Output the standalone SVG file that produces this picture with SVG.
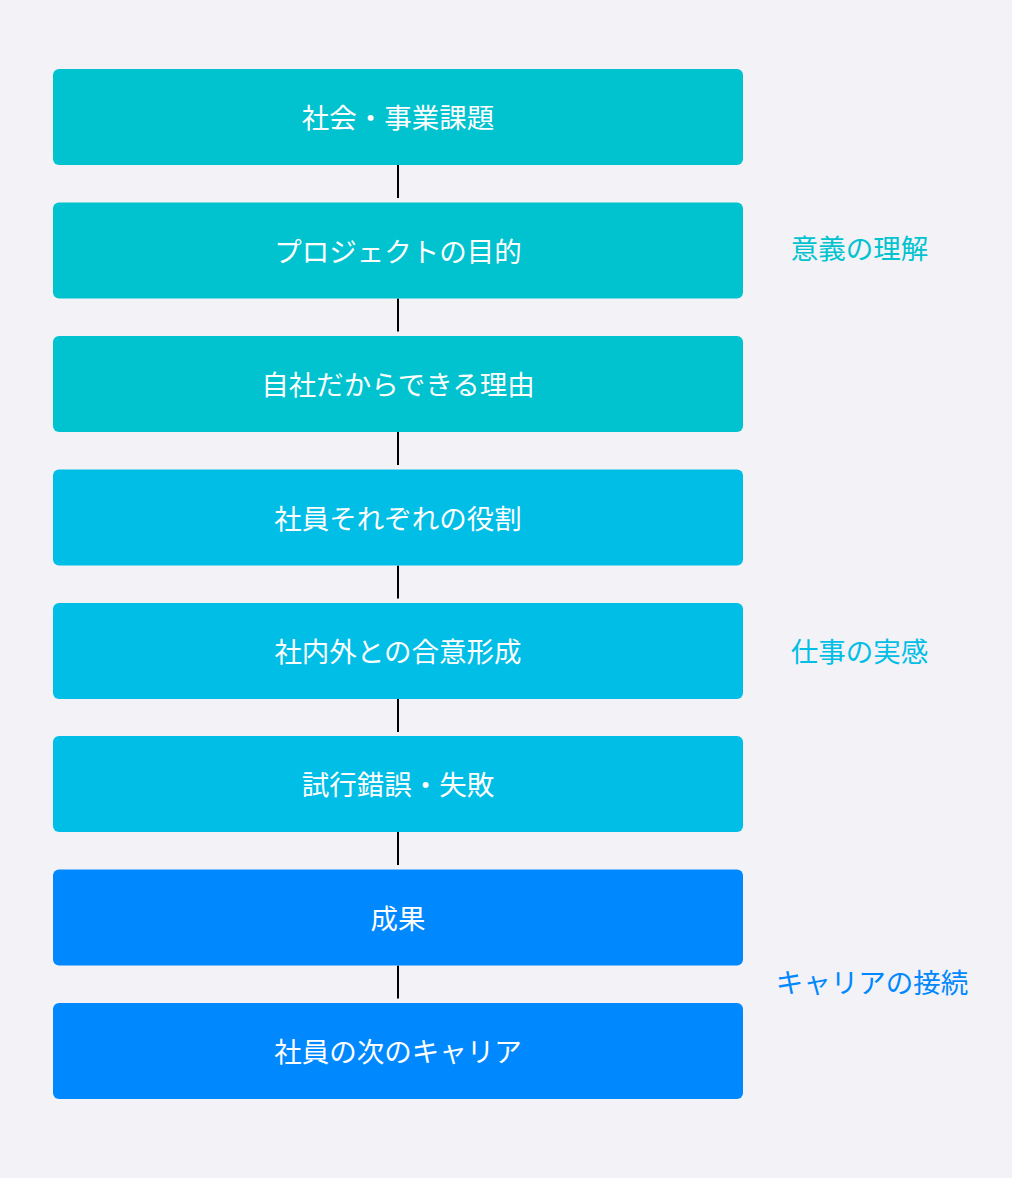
<svg xmlns="http://www.w3.org/2000/svg" width="1012" height="1178" viewBox="0 0 1012 1178">
<style>
.box{stroke:none}
.g1{fill:#00C3CF}
.g2{fill:#00BEE5}
.g3{fill:#0088FF}
.t{font-family:"Noto Sans CJK JP","Noto Sans",sans-serif;font-size:27.5px;fill:#FFFFFF;text-anchor:middle;dominant-baseline:central}
.side{font-family:"Noto Sans CJK JP","Noto Sans",sans-serif;font-size:27.5px;text-anchor:middle;dominant-baseline:central}
.c{stroke:#000000;stroke-width:2;fill:none}
</style>
<rect x="0" y="0" width="1012" height="1178" fill="#F2F2F7"/>
<g id="connectors">
<line class="c" x1="398" y1="165" x2="398" y2="198"/>
<line class="c" x1="398" y1="298.5" x2="398" y2="331.5"/>
<line class="c" x1="398" y1="432" x2="398" y2="465"/>
<line class="c" x1="398" y1="565.5" x2="398" y2="598.5"/>
<line class="c" x1="398" y1="699" x2="398" y2="732"/>
<line class="c" x1="398" y1="832" x2="398" y2="865"/>
<line class="c" x1="398" y1="965.5" x2="398" y2="998.5"/>
</g>
<g id="n1"><rect class="box g1" x="53" y="69" width="690" height="96" rx="6"/><text class="t" x="398" y="116">社会・事業課題</text></g>
<g id="n2"><rect class="box g1" x="53" y="202.5" width="690" height="96" rx="6"/><text class="t" x="398" y="249.5">プロジェクトの目的</text></g>
<g id="n3"><rect class="box g1" x="53" y="336" width="690" height="96" rx="6"/><text class="t" x="398" y="383">自社だからできる理由</text></g>
<g id="n4"><rect class="box g2" x="53" y="469.5" width="690" height="96" rx="6"/><text class="t" x="398" y="516.5">社員それぞれの役割</text></g>
<g id="n5"><rect class="box g2" x="53" y="603" width="690" height="96" rx="6"/><text class="t" x="398" y="650">社内外との合意形成</text></g>
<g id="n6"><rect class="box g2" x="53" y="736" width="690" height="96" rx="6"/><text class="t" x="398" y="783">試行錯誤・失敗</text></g>
<g id="n7"><rect class="box g3" x="53" y="869.5" width="690" height="96" rx="6"/><text class="t" x="398" y="916.5">成果</text></g>
<g id="n8"><rect class="box g3" x="53" y="1003" width="690" height="96" rx="6"/><text class="t" x="398" y="1050">社員の次のキャリア</text></g>
<g id="label1"><text class="side" x="859.5" y="247" fill="#00C3CF">意義の理解</text></g>
<g id="label2"><text class="side" x="859.5" y="650" fill="#00BEE5">仕事の実感</text></g>
<g id="label3"><text class="side" x="872" y="981" fill="#0088FF">キャリアの接続</text></g>
</svg>
